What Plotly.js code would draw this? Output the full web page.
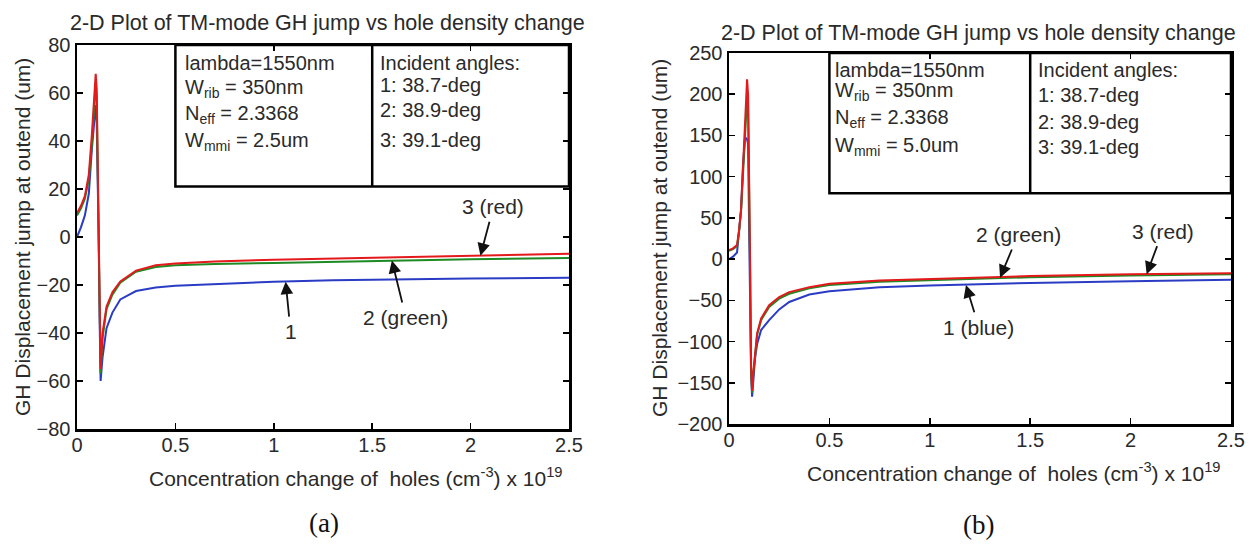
<!DOCTYPE html>
<html>
<head>
<meta charset="utf-8">
<script src="https://cdn.plot.ly/plotly-3.0.1.min.js"></script>
<style>
  html, body { margin: 0; padding: 0; background: #ffffff; }
  #chart { width: 1255px; height: 549px; }
</style>
</head>
<body>
<div id="chart"></div>
<script>
// ---------- data ----------
// (a) W_mmi = 2.5 um
const xA = [0, 0.02, 0.04, 0.06, 0.075, 0.085, 0.095, 0.1, 0.105, 0.11, 0.115, 0.12, 0.13, 0.15, 0.18, 0.22, 0.3, 0.4, 0.5, 0.7, 1.0, 1.3, 1.6, 2.0, 2.5];
const blueA  = [0, 4, 9, 18, 36, 47, 55, 48, 30, 0, -35, -60, -50, -38, -31.5, -26, -22.5, -21, -20.3, -19.5, -18.6, -18, -17.6, -17.3, -17];
const greenA = [9, 12, 16, 24, 38, 50, 64, 58, 25, -15, -48, -57, -42, -30, -24, -19, -14.5, -12.5, -11.8, -11.2, -10.8, -10.3, -9.8, -9.3, -8.8];
const redA   = [10, 13, 17, 26, 42, 53, 68, 62, 30, -10, -45, -55, -40, -29, -23, -18.5, -14, -11.8, -11, -10.2, -9.5, -9, -8.5, -7.8, -7];

// (b) W_mmi = 5.0 um
const xB = [0, 0.02, 0.04, 0.05, 0.06, 0.07, 0.08, 0.09, 0.095, 0.1, 0.105, 0.11, 0.115, 0.12, 0.13, 0.14, 0.16, 0.2, 0.25, 0.3, 0.4, 0.5, 0.75, 1.0, 1.5, 2.0, 2.5];
const blueB  = [0, 3, 8, 30, 60, 115, 148, 145, 140, 40, -60, -140, -167, -150, -120, -103, -86, -74, -61, -52, -43, -39, -34, -32, -29, -27, -25];
const greenB = [10, 12, 16, 33, 58, 105, 148, 195, 185, 110, -10, -135, -162, -142, -112, -92, -74, -58, -48, -42, -35.5, -31.5, -27.5, -25.5, -22, -20, -18.5];
const redB   = [11, 13, 17, 35, 60, 110, 150, 218, 200, 120, 0, -130, -160, -140, -110, -90, -72, -56, -46, -40, -34, -30, -26, -24, -20.5, -18.5, -17];

// ---------- text ----------
const plotTitle = "2-D Plot of TM-mode GH jump vs hole density change";
const xTitle = "Concentration change of  holes (cm<sup>-3</sup>) x 10<sup>19</sup>";
const yTitle = "GH Displacement jump at outend (um)";
const paramsA = ["lambda=1550nm", "W<sub>rib</sub> = 350nm", "N<sub>eff</sub> = 2.3368", "W<sub>mmi</sub> = 2.5um"];
const paramsB = ["lambda=1550nm", "W<sub>rib</sub> = 350nm", "N<sub>eff</sub> = 2.3368", "W<sub>mmi</sub> = 5.0um"];
const angles = ["Incident angles:", "1: 38.7-deg", "2: 38.9-deg", "3: 39.1-deg"];
const xTicks = [0, 0.5, 1, 1.5, 2, 2.5];
const xTickText = ["0", "0.5", "1", "1.5", "2", "2.5"];

// ---------- layout helpers (pixel -> paper) ----------
const W = 1255, H = 549;
const px = v => v / W;
const py = v => 1 - v / H;

const RED = "#e3191c", GREEN = "#1e8a24", BLUE = "#2b3cc4";
const FONT = "Liberation Sans, Arial, sans-serif";
const TXT = "#2a2a2a";

function line(x, y, color, xa, ya, name) {
  return { x: x, y: y, type: "scatter", mode: "lines", name: name,
           line: { color: color, width: 2 }, xaxis: xa, yaxis: ya, hoverinfo: "skip" };
}

const traces = [
  line(xA, blueA, BLUE, "x", "y", "1"),
  line(xA, greenA, GREEN, "x", "y", "2"),
  line(xA, redA, RED, "x", "y", "3"),
  line(xB, blueB, BLUE, "x2", "y2", "1"),
  line(xB, greenB, GREEN, "x2", "y2", "2"),
  line(xB, redB, RED, "x2", "y2", "3")
];

const axisCommon = {
  showline: true, linecolor: "#000", linewidth: 2.5, mirror: "ticks",
  ticks: "inside", ticklen: 6, tickwidth: 1.5, tickcolor: "#000",
  showgrid: false, zeroline: false,
  tickfont: { family: FONT, size: 20, color: TXT }
};

function xaxis(domain, anchor) {
  return Object.assign({}, axisCommon, {
    domain: domain, anchor: anchor, range: [0, 2.5], tickvals: xTicks, ticktext: xTickText,
    ticklabelstandoff: -4
  });
}
function yaxis(domain, anchor, range, dtick) {
  return Object.assign({}, axisCommon, {
    domain: domain, anchor: anchor, range: range, dtick: dtick, tick0: range[0]
  });
}

const shapes = [];
function box(xa, ya, x0, x1, xm, y0, y1) {
  const s = { xref: xa, yref: ya, line: { color: "#000", width: 2.5 } };
  shapes.push(Object.assign({ type: "rect", x0: x0, x1: x1, y0: y0, y1: y1 }, s));
  shapes.push(Object.assign({ type: "line", x0: xm, x1: xm, y0: y0, y1: y1 }, s));
}
box("x", "y", 0.5, 2.5, 1.5, 21, 80);
box("x2", "y2", 0.5, 2.5, 1.5, 80, 250);

const annotations = [];
const tf = (size) => ({ family: FONT, size: size, color: TXT });
function paperText(x, y, text, size, angle) {
  annotations.push({ xref: "paper", yref: "paper", x: px(x), y: py(y), text: text, showarrow: false,
    xanchor: "center", yanchor: "middle", textangle: angle || 0, font: tf(size) });
}

// subplot titles
paperText(327, 23, plotTitle, 21.5);
paperText(979, 33, plotTitle, 21.5);
// axis titles
paperText(355, 477, xTitle, 21);
paperText(1013, 472, xTitle, 21);
paperText(22, 237, yTitle, 21, -90);
paperText(660, 238, yTitle, 21, -90);

// parameter boxes
const rowsA = [72.5, 62, 51, 40];
const rowsB = [229, 203, 171, 136];
paramsA.forEach((t, i) => annotations.push({ xref: "x", yref: "y", x: 0.54, y: rowsA[i], text: t, showarrow: false,
  xanchor: "left", yanchor: "middle", font: tf(20) }));
angles.forEach((t, i) => annotations.push({ xref: "x", yref: "y", x: 1.53, y: [72.5, 63.5, 53, 40.5][i], text: t, showarrow: false,
  xanchor: "left", yanchor: "middle", font: tf(20) }));
paramsB.forEach((t, i) => annotations.push({ xref: "x2", yref: "y2", x: 0.52, y: rowsB[i], text: t, showarrow: false,
  xanchor: "left", yanchor: "middle", font: tf(20) }));
angles.forEach((t, i) => annotations.push({ xref: "x2", yref: "y2", x: 1.53, y: [229, 199, 166, 136][i], text: t, showarrow: false,
  xanchor: "left", yanchor: "middle", font: tf(20) }));

// curve labels with arrows
function lab(xa, ya, x, y, text, ax, ay) {
  annotations.push({ xref: xa, yref: ya, x: x, y: y, text: text, showarrow: true,
    ax: ax, ay: ay, arrowhead: 2, arrowsize: 1.4, arrowwidth: 1.8, arrowcolor: "#111",
    standoff: 0, startstandoff: 2, font: tf(21) });
}
lab("x", "y", 2.05, -7.8, "3 (red)", 13, -49);
lab("x", "y", 1.6, -9.8, "2 (green)", 14, 57);
lab("x", "y", 1.06, -18.6, "1", 5, 50);
lab("x2", "y2", 1.35, -22.5, "2 (green)", 18, -43);
lab("x2", "y2", 2.08, -18.3, "3 (red)", 16, -43);
lab("x2", "y2", 1.18, -31.5, "1 (blue)", 13, 42);

// panel letters
const serif = { family: "Liberation Serif, Times New Roman, serif", size: 27, color: "#111" };
annotations.push({ xref: "paper", yref: "paper", x: px(324), y: py(523), text: "(a)", showarrow: false,
  xanchor: "center", yanchor: "middle", font: serif });
annotations.push({ xref: "paper", yref: "paper", x: px(979), y: py(525), text: "(b)", showarrow: false,
  xanchor: "center", yanchor: "middle", font: serif });

const layout = {
  width: W, height: H,
  margin: { l: 0, r: 0, t: 0, b: 0 },
  paper_bgcolor: "#ffffff", plot_bgcolor: "#ffffff",
  showlegend: false,
  xaxis: xaxis([px(77), px(569)], "y"),
  yaxis: yaxis([py(429), py(45)], "x", [-80, 80], 20),
  xaxis2: xaxis([px(729), px(1231)], "y2"),
  yaxis2: yaxis([py(424), py(53)], "x2", [-200, 250], 50),
  shapes: shapes,
  annotations: annotations
};

Plotly.newPlot("chart", traces, layout, { displayModeBar: false, staticPlot: true });
</script>
</body>
</html>
